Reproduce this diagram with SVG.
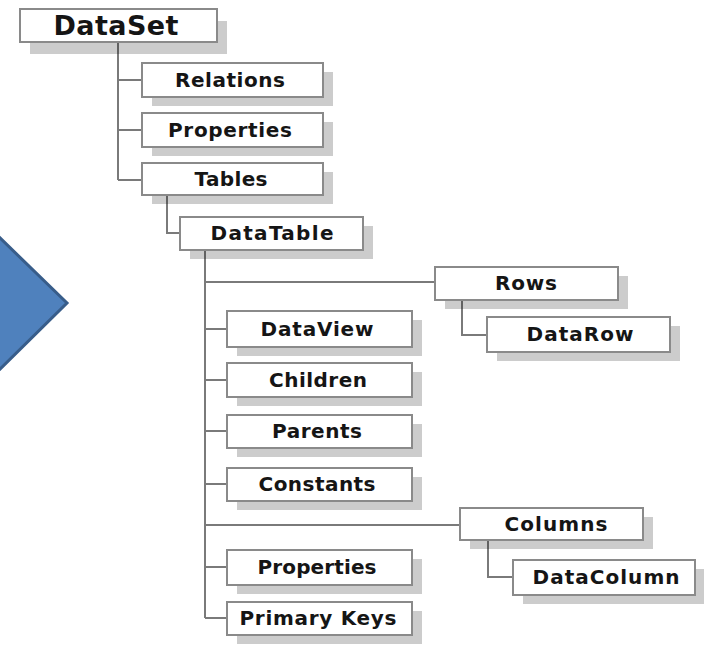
<svg xmlns="http://www.w3.org/2000/svg" width="704" height="647" viewBox="0 0 704 647">
<style>
.sh{fill:#000;fill-opacity:0.2}
.bx{fill:#fff;stroke:#8a8a8a;stroke-width:2}
.t{font-family:"DejaVu Sans","Verdana",sans-serif;font-weight:bold;font-size:20px;fill:#151515;text-anchor:middle}
.big{font-size:27px}
.c{fill:none;stroke:#7a7a7a;stroke-width:2}
</style>
<rect width="704" height="647" fill="#fff"/>
<polygon id="arrow" points="-3,235 67,303 -3,372" fill="#4f81bd" stroke="#385d8a" stroke-width="3"/>
<g id="connectors">
<path class="c" d="M118,42V180M118,80H142M118,130H142M118,180H142"/>
<path class="c" d="M167,195V233H180"/>
<path class="c" d="M205,250V618M205,282H435M205,329H227M205,380H227M205,431H227M205,484H227M205,525H460M205,567H227M205,618H227"/>
<path class="c" d="M462,300V335H487"/>
<path class="c" d="M488,540V577H513"/>
</g>
<g id="dataset"><rect class="sh" x="30" y="21" width="197" height="33"/><rect class="bx" x="20" y="9" width="197" height="33"/><text class="t big" x="116" y="35" textLength="125">DataSet</text></g>
<g id="relations"><rect class="sh" x="152" y="72" width="181" height="34"/><rect class="bx" x="142" y="63" width="181" height="34"/><text class="t" x="230" y="87" textLength="110">Relations</text></g>
<g id="properties1"><rect class="sh" x="152" y="122" width="181" height="34"/><rect class="bx" x="142" y="113" width="181" height="34"/><text class="t" x="230" y="137" textLength="124">Properties</text></g>
<g id="tables"><rect class="sh" x="152" y="172" width="181" height="32"/><rect class="bx" x="142" y="163" width="181" height="32"/><text class="t" x="231" y="186" textLength="73">Tables</text></g>
<g id="datatable"><rect class="sh" x="190" y="226" width="183" height="33"/><rect class="bx" x="180" y="217" width="183" height="33"/><text class="t" x="272" y="240" textLength="123">DataTable</text></g>
<g id="rows"><rect class="sh" x="445" y="276" width="183" height="33"/><rect class="bx" x="435" y="267" width="183" height="33"/><text class="t" x="526" y="290" textLength="62">Rows</text></g>
<g id="datarow"><rect class="sh" x="497" y="326" width="183" height="35"/><rect class="bx" x="487" y="317" width="183" height="35"/><text class="t" x="580" y="341" textLength="107">DataRow</text></g>
<g id="dataview"><rect class="sh" x="237" y="320" width="185" height="36"/><rect class="bx" x="227" y="311" width="185" height="36"/><text class="t" x="317" y="336" textLength="113">DataView</text></g>
<g id="children"><rect class="sh" x="237" y="372" width="185" height="34"/><rect class="bx" x="227" y="363" width="185" height="34"/><text class="t" x="318" y="387" textLength="98">Children</text></g>
<g id="parents"><rect class="sh" x="237" y="424" width="185" height="33"/><rect class="bx" x="227" y="415" width="185" height="33"/><text class="t" x="317" y="438" textLength="90">Parents</text></g>
<g id="constants"><rect class="sh" x="237" y="477" width="185" height="33"/><rect class="bx" x="227" y="468" width="185" height="33"/><text class="t" x="317" y="491" textLength="117">Constants</text></g>
<g id="columns"><rect class="sh" x="470" y="517" width="183" height="32"/><rect class="bx" x="460" y="508" width="183" height="32"/><text class="t" x="556" y="531" textLength="103">Columns</text></g>
<g id="datacolumn"><rect class="sh" x="523" y="569" width="182" height="35"/><rect class="bx" x="513" y="560" width="182" height="35"/><text class="t" x="606" y="584" textLength="147">DataColumn</text></g>
<g id="properties2"><rect class="sh" x="237" y="559" width="185" height="35"/><rect class="bx" x="227" y="550" width="185" height="35"/><text class="t" x="317" y="574" textLength="119">Properties</text></g>
<g id="primarykeys"><rect class="sh" x="237" y="611" width="185" height="33"/><rect class="bx" x="227" y="602" width="185" height="33"/><text class="t" x="318" y="625" textLength="157">Primary Keys</text></g>
</svg>
